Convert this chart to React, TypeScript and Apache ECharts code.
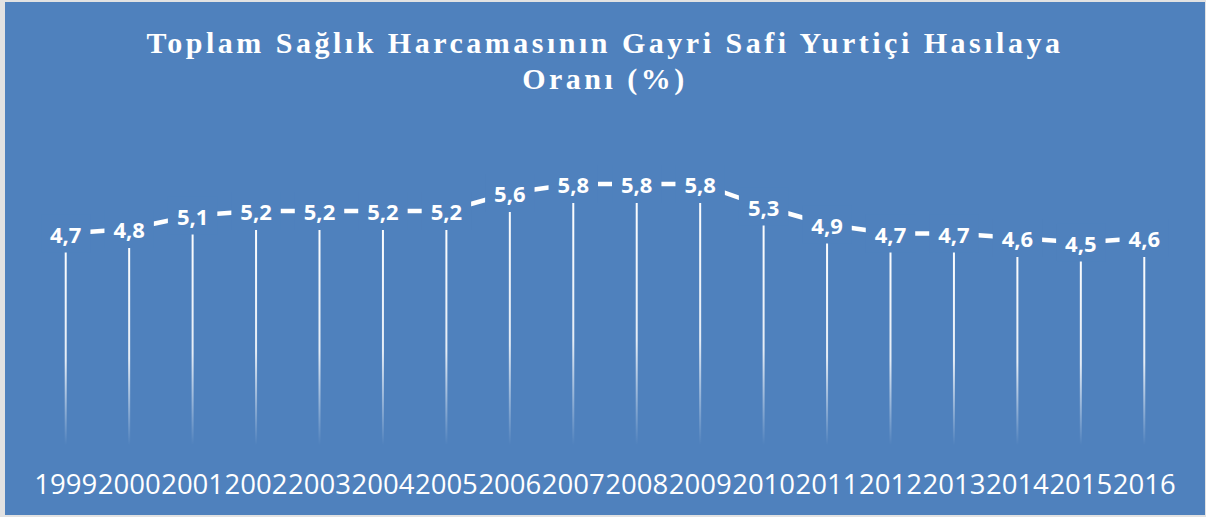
import React, { useEffect, useRef } from "react";
import * as echarts from "echarts";

const years = [
  "1999", "2000", "2001", "2002", "2003", "2004", "2005", "2006", "2007",
  "2008", "2009", "2010", "2011", "2012", "2013", "2014", "2015", "2016",
];
const ratio = [4.7, 4.8, 5.1, 5.2, 5.2, 5.2, 5.2, 5.6, 5.8, 5.8, 5.8, 5.3, 4.9, 4.7, 4.7, 4.6, 4.5, 4.6];
const titleLines = ["Toplam Sağlık Harcamasının Gayri Safi Yurtiçi Hasılaya", "Oranı (%)"];

const BG = "#4F81BD";

export default function App() {
  const ref = useRef<HTMLDivElement>(null);

  useEffect(() => {
    if (!ref.current) return;
    const chart = echarts.init(ref.current, undefined, { renderer: "svg" });
    chart.setOption({
      animation: false,
      backgroundColor: BG,
      title: {
        text: titleLines.join("\n"),
        left: "center",
        top: 22,
        padding: 0,
        textStyle: {
          color: "#ffffff",
          fontFamily: "Liberation Serif",
          fontWeight: "bold",
          fontSize: 30,
          lineHeight: 36,
        },
      },
      grid: { left: 29, right: 29, top: 128, bottom: 70 },
      xAxis: {
        type: "category",
        data: years,
        axisLine: { show: false },
        axisTick: { show: false },
        splitLine: { show: false },
        axisLabel: {
          interval: 0,
          color: "#ffffff",
          fontFamily: "Open Sans",
          fontSize: 27.5,
          margin: 24,
        },
      },
      yAxis: { type: "value", min: 0, max: 7, show: false },
      series: [
        {
          type: "bar",
          data: ratio,
          barWidth: 2,
          silent: true,
          z: 2,
          itemStyle: {
            color: new echarts.graphic.LinearGradient(0, 0, 0, 1, [
              { offset: 0, color: "rgba(255,255,255,1)" },
              { offset: 0.6, color: "rgba(255,255,255,0.85)" },
              { offset: 1, color: "rgba(255,255,255,0)" },
            ]),
          },
        },
        {
          type: "line",
          data: ratio,
          z: 5,
          symbol: "circle",
          symbolSize: 2,
          itemStyle: { color: "#ffffff" },
          lineStyle: { color: "#ffffff", width: 4.5 },
          label: {
            show: true,
            position: "inside",
            formatter: (p: any) => Number(p.value).toFixed(1).replace(".", ","),
            color: "#ffffff",
            fontFamily: "Open Sans",
            fontWeight: "bold",
            fontSize: 22,
            backgroundColor: BG,
            padding: [8, 9],
          },
        },
      ],
    });
    return () => chart.dispose();
  }, []);

  return (
    <div style={{ position: "fixed", left: 0, top: 0, width: 1206, height: 517, background: "#e2e2e2" }}>
      <style>{`#chartbox text[style*="Serif"]{letter-spacing:3.5px;}`}</style>
      <div
        id="chartbox"
        ref={ref}
        style={{ position: "absolute", left: 5, top: 2, width: 1200, height: 513 }}
      />
    </div>
  );
}
